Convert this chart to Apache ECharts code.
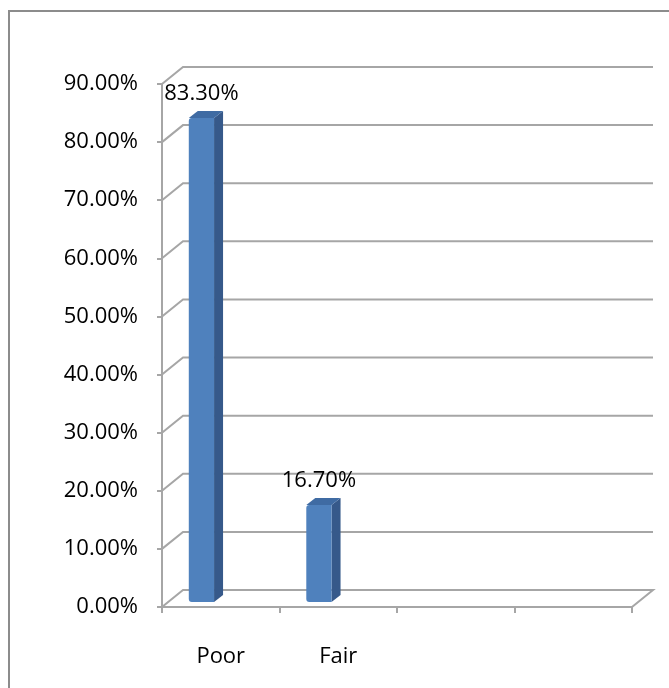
<!DOCTYPE html>
<html>
<head>
<meta charset="utf-8">
<script src="https://cdn.jsdelivr.net/npm/echarts@6/dist/echarts.min.js"></script>
<style>
  html, body { margin: 0; padding: 0; background: #ffffff; }
  #chart { width: 669px; height: 688px; }
</style>
</head>
<body>
<div id="chart"></div>
<script>
// Rating categories and their shares
const categories = ['Poor', 'Fair', '', ''];
const shares = [0.833, 0.167];
// Value-axis ticks (0% .. 90%)
const tickValues = [0, 0.1, 0.2, 0.3, 0.4, 0.5, 0.6, 0.7, 0.8, 0.9];

// Depth of the back wall and of the columns (pseudo 3-D)
const WALL_DX = 21, WALL_DY = -17;
const BAR_DX = 9, BAR_DY = -7;
const GRID_COLOR = '#a6a6a6';
const FONT = 'Open Sans';
const FONT_SIZE = 22;

const fmtPct = v => (v * 100).toFixed(2) + '%';

const chart = echarts.init(document.getElementById('chart'), null, { renderer: 'canvas' });

// Back wall grid lines, side-wall diagonals and the floor
function renderWalls(params, api) {
  const v = api.value(0);
  const left = api.coord([0, v]);
  const right = api.coord([categories.length - 1, v]);
  const band = api.size([1, 0])[0];
  const x0 = left[0] - band / 2;
  const x1 = right[0] + band / 2;
  const y = left[1];
  const pts = v === 0
    ? [[x0, y], [x0 + WALL_DX, y + WALL_DY], [x1 + WALL_DX, y + WALL_DY], [x1, y]]
    : [[x0, y], [x0 + WALL_DX, y + WALL_DY], [x1 + WALL_DX, y + WALL_DY]];
  return {
    type: 'polyline',
    shape: { points: pts },
    style: { stroke: GRID_COLOR, lineWidth: 2, fill: null }
  };
}

// Columns with front, side and top faces plus their value label
function renderBar(params, api) {
  const cat = api.value(0);
  const val = api.value(1);
  const top = api.coord([cat, val]);
  const base = api.coord([cat, 0]);
  const band = api.size([1, 0])[0];
  const faceW = band * 0.215;
  const fl = top[0] - band * 0.272;
  const fr = fl + faceW;
  const ty = top[1] - 5;
  const by = base[1] - 5;
  return {
    type: 'group',
    children: [
      {
        type: 'polygon',
        shape: { points: [[fr, ty], [fr + BAR_DX, ty + BAR_DY], [fr + BAR_DX, by + BAR_DY], [fr, by]] },
        style: { fill: '#36598a' }
      },
      {
        type: 'polygon',
        shape: { points: [[fl, ty], [fl + BAR_DX, ty + BAR_DY], [fr + BAR_DX, ty + BAR_DY], [fr, ty]] },
        style: { fill: '#3f6ba3' }
      },
      {
        type: 'rect',
        shape: { x: fl, y: ty, width: faceW, height: by - ty, r: [3, 0, 0, 3] },
        style: { fill: '#4f81bd' }
      },
      {
        type: 'text',
        x: fl + faceW / 2,
        y: ty - 24,
        style: {
          text: fmtPct(val),
          fill: '#000000',
          font: FONT_SIZE + 'px "' + FONT + '"',
          align: 'center',
          verticalAlign: 'middle'
        }
      }
    ]
  };
}

chart.setOption({
  animation: false,
  backgroundColor: '#ffffff',
  graphic: [{
    type: 'rect',
    shape: { x: 9, y: 11, width: 720, height: 720 },
    style: { fill: null, stroke: '#8c8c8c', lineWidth: 2 },
    silent: true
  }],
  grid: { left: 162, right: 37, top: 84, bottom: 81 },
  xAxis: {
    type: 'category',
    data: categories,
    boundaryGap: true,
    axisLine: { show: true, lineStyle: { color: GRID_COLOR, width: 2 } },
    axisTick: { show: true, length: 6, alignWithLabel: false, lineStyle: { color: GRID_COLOR, width: 2 } },
    axisLabel: { color: '#000000', fontFamily: FONT, fontSize: FONT_SIZE, margin: 39 },
    splitLine: { show: false }
  },
  yAxis: {
    type: 'value',
    min: 0,
    max: 0.9,
    interval: 0.1,
    axisLine: { show: true, lineStyle: { color: GRID_COLOR, width: 2 } },
    axisTick: { show: true, length: 5, lineStyle: { color: GRID_COLOR, width: 2 } },
    axisLabel: {
      color: '#000000', fontFamily: FONT, fontSize: FONT_SIZE, margin: 24,
      padding: [8, 0, 0, 0], formatter: fmtPct
    },
    splitLine: { show: false }
  },
  series: [
    {
      type: 'custom',
      renderItem: renderWalls,
      data: tickValues.map(v => [v]),
      encode: { y: 0 },
      z: 1,
      silent: true
    },
    {
      type: 'custom',
      renderItem: renderBar,
      data: shares.map((v, i) => [i, v]),
      encode: { x: 0, y: 1 },
      z: 3,
      silent: true
    }
  ]
});
</script>
</body>
</html>
